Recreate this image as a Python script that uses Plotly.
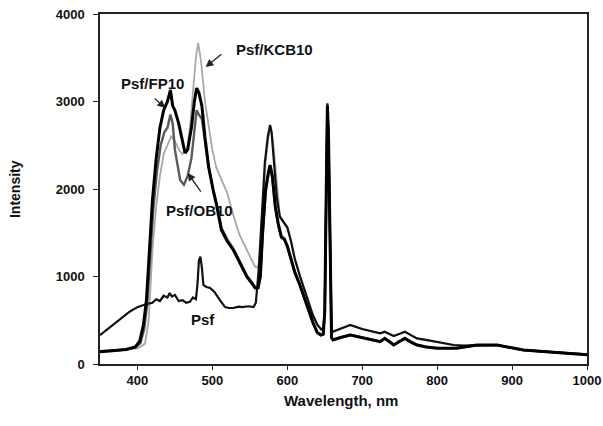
import plotly.graph_objects as go

# ---------------- data ----------------
psf_wl = [350, 360, 370, 380, 390, 400, 410, 420, 425, 430, 435, 440, 443, 446, 450, 455, 460, 465, 470,
          474, 478, 480, 482, 484, 486, 488, 492, 497, 503, 510, 517, 522, 528, 535, 540, 548, 555, 558,
          562, 566, 570, 574, 577, 579, 582, 586, 590, 595, 600, 605, 610, 617, 625, 634, 640, 645, 648,
          650, 652, 653.5, 655, 657, 659, 661, 670, 684, 700, 715, 724, 730, 736, 742, 750, 757, 765, 773,
          785, 800, 812, 822, 835, 853, 866, 880, 900, 915, 930, 946, 960, 975, 990, 1000]
psf_int = [331, 400, 470, 540, 600, 650, 680, 700, 740, 720, 780, 760, 811, 770, 790, 720, 730, 700, 710,
           760, 740, 900, 1180, 1226, 1100, 903, 880, 869, 820, 731, 650, 640, 640, 655, 650, 660, 650, 700,
           1100, 1700, 2300, 2600, 2731, 2650, 2300, 1900, 1683, 1620, 1560, 1400, 1200, 1000, 780, 560, 450, 400, 390,
           600, 2000, 2979, 2600, 1200, 400, 369, 400, 446, 400, 370, 350, 369, 345, 320, 345, 369, 330, 293,
           275, 255, 235, 217, 210, 217, 215, 217, 185, 160, 150, 141, 135, 125, 118, 110]

fp_wl = [350, 370, 385, 397, 403, 408, 412, 416, 420, 425, 430, 435, 440, 444, 447, 450, 455, 460, 463.5,
         467, 472, 476, 479, 482, 486, 490, 495, 501, 506, 512, 520, 528, 537, 546, 553, 557, 561, 564, 567,
         571, 575, 577, 580, 584, 588, 592, 596, 600, 605, 610, 617, 625, 634, 640, 645, 648, 650, 652, 653.5,
         655, 657, 659, 661, 670, 684, 700, 715, 724, 730, 736, 742, 750, 757, 765, 773, 785, 800, 826, 853,
         880, 900, 915, 946, 975, 1000]
fp_int = [141, 150, 165, 194, 260, 450, 731, 1300, 1874, 2350, 2700, 2900, 3000, 3131, 2950, 2900, 2750, 2550, 2411,
          2450, 2700, 3000, 3154, 3100, 2950, 2600, 2250, 1989, 1800, 1531, 1400, 1303, 1150, 998, 920, 869, 870, 1000, 1500,
          2000, 2200, 2274, 2150, 1800, 1600, 1455, 1430, 1350, 1200, 1050, 900, 700, 480, 360, 331, 340, 600, 2000, 2950,
          2600, 1200, 300, 274, 300, 331, 300, 270, 255, 293, 260, 217, 260, 293, 250, 217, 195, 179, 179, 217,
          217, 180, 160, 141, 125, 105]

ob_wl = [350, 370, 385, 397, 404, 409, 413, 417, 421, 426, 431, 436, 440, 444, 447, 450, 455, 457, 462,
         467, 472, 476, 479, 482, 486, 490, 495, 501, 506, 512, 520, 528, 537, 546, 553, 557, 561, 564, 567,
         571, 575, 577, 580, 584, 588, 592, 596, 600, 605, 610, 617, 625, 634, 640, 645, 648, 650, 652, 653.5,
         655, 657, 659, 661, 670, 684, 700, 715, 724, 730, 736, 742, 750, 757, 765, 773, 785, 800, 826, 853,
         880, 900, 915, 946, 975, 1000]
ob_int = [145, 152, 168, 190, 240, 400, 680, 1200, 1750, 2200, 2500, 2650, 2700, 2850, 2750, 2450, 2200, 2100, 2050,
          2150, 2350, 2700, 2900, 2850, 2800, 2550, 2250, 2000, 1820, 1560, 1420, 1320, 1170, 1010, 930, 880, 880, 1000, 1450,
          1950, 2180, 2250, 2120, 1780, 1580, 1440, 1420, 1340, 1190, 1040, 890, 690, 470, 355, 331, 345, 600, 1950, 2920,
          2550, 1150, 300, 280, 305, 335, 305, 272, 258, 290, 262, 220, 262, 290, 252, 220, 198, 182, 182, 215,
          215, 178, 158, 140, 122, 104]

kcb_wl = [350, 370, 385, 400, 410, 415, 420, 425, 430, 435, 440, 445, 450, 455, 460, 466, 470, 474, 478, 481,
          485, 490, 495, 500, 505, 512, 520, 528, 536, 546, 557, 561, 564, 567, 571, 575, 578, 581, 585, 590,
          595, 600, 605, 610, 617, 625, 634, 640, 645, 648, 650, 652, 653.5, 655, 657, 659, 661, 670, 684, 700,
          715, 724, 730, 736, 742, 750, 757, 765, 773, 785, 800, 812, 822, 835, 853, 866, 880, 900, 915, 930,
          946, 960, 975, 990, 1000]
kcb_int = [150, 158, 168, 180, 230, 500, 1300, 1800, 2150, 2400, 2500, 2600, 2550, 2450, 2400, 2450, 2700, 3100, 3500, 3669,
           3450, 3000, 2700, 2450, 2250, 2100, 1950, 1700, 1480, 1303, 1112, 1100, 1300, 1800, 2300, 2600, 2700, 2550, 2150, 1700,
           1630, 1570, 1410, 1210, 1010, 790, 570, 455, 389, 395, 600, 2000, 2960, 2600, 1200, 400, 372, 405, 440, 398,
           368, 350, 366, 343, 322, 343, 366, 328, 293, 273, 253, 233, 215, 208, 215, 213, 215, 183, 158, 148,
           140, 133, 124, 116, 108]

x_ticks = [400, 500, 600, 700, 800, 900, 1000]
y_ticks = [0, 1000, 2000, 3000, 4000]

FONT = "Liberation Sans, Arial, sans-serif"

fig = go.Figure()
fig.add_trace(go.Scatter(x=kcb_wl, y=kcb_int, mode="lines", name="Psf/KCB10",
                         line=dict(color="#a8a8a8", width=1.8)))
fig.add_trace(go.Scatter(x=ob_wl, y=ob_int, mode="lines", name="Psf/OB10",
                         line=dict(color="#5a5a5a", width=2.4)))
fig.add_trace(go.Scatter(x=psf_wl, y=psf_int, mode="lines", name="Psf",
                         line=dict(color="#111111", width=2.2)))
fig.add_trace(go.Scatter(x=fp_wl, y=fp_int, mode="lines", name="Psf/FP10",
                         line=dict(color="#000000", width=3)))

ann_font = dict(family=FONT, size=15, color="#111111", weight="bold")
annotations = [
    dict(x=583, y=3600, text="Psf/KCB10", showarrow=False, font=ann_font),
    dict(x=420, y=3206, text="Psf/FP10", showarrow=False, font=ann_font),
    dict(x=483, y=1752, text="Psf/OB10", showarrow=False, font=ann_font),
    dict(x=488, y=503, text="Psf", showarrow=False, font=ann_font),
    # arrows
    dict(x=491, y=3394, ax=514, ay=3554, axref="x", ayref="y", text="", showarrow=True,
         arrowhead=2, arrowsize=1.2, arrowwidth=1.3, arrowcolor="#222"),
    dict(x=437, y=2926, ax=421, ay=3051, axref="x", ayref="y", text="", showarrow=True,
         arrowhead=2, arrowsize=1.2, arrowwidth=1.3, arrowcolor="#222"),
    dict(x=467, y=2183, ax=486, ay=1954, axref="x", ayref="y", text="", showarrow=True,
         arrowhead=2, arrowsize=1.2, arrowwidth=1.3, arrowcolor="#222"),
    # axis titles
    dict(xref="paper", yref="paper", x=-0.1745, y=0.5, xanchor="center", yanchor="middle",
         text="Intensity", textangle=-90,
         showarrow=False, font=dict(family=FONT, size=14, color="#111", weight="bold")),
    dict(xref="paper", yref="paper", x=0.494, y=-0.103, xanchor="center", yanchor="middle",
         text="Wavelength, nm",
         showarrow=False, font=dict(family=FONT, size=15, color="#111", weight="bold")),
]

fig.update_layout(
    width=603, height=426,
    autosize=False,
    margin=dict(l=100, r=16, t=14, b=62, autoexpand=False),
    paper_bgcolor="white", plot_bgcolor="white",
    showlegend=False,
    annotations=annotations,
    font=dict(family=FONT, color="#111"),
)
fig.update_xaxes(range=[350, 1000], tickvals=x_ticks, ticks="outside", ticklen=4, tickwidth=1.2,
                 tickcolor="#222", showline=True, linecolor="#222", linewidth=1.5, mirror=True,
                 showgrid=False, zeroline=False, automargin=False,
                 tickfont=dict(family=FONT, size=13, color="#111", weight="bold"))
fig.update_yaxes(range=[0, 4000], tickvals=y_ticks, ticks="outside", ticklen=5, tickwidth=1.2,
                 tickcolor="#222", showline=True, linecolor="#222", linewidth=1.5, mirror=True,
                 showgrid=False, zeroline=False, automargin=False, ticklabelstandoff=6,
                 tickfont=dict(family=FONT, size=13, color="#111", weight="bold"))

fig.write_html("out.html")
